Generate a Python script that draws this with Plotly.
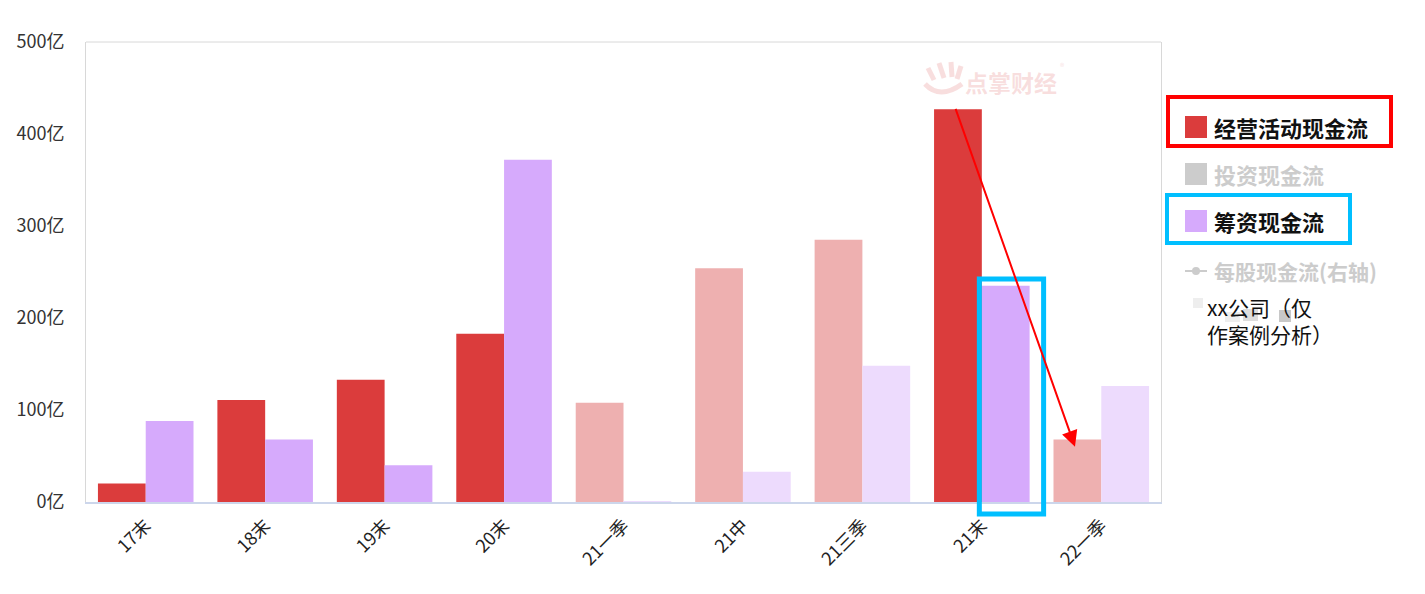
import plotly.graph_objects as go

categories = ["17末", "18末", "19末", "20末", "21一季", "21中", "21三季", "21末", "22一季"]
operating_cf = [20, 111, 133, 183, 108, 254, 285, 427, 68]
financing_cf = [88, 68, 40, 372, 1, 33, 148, 235, 126]
highlight = [True, True, True, True, False, False, False, True, False]
y_ticks = [0, 100, 200, 300, 400, 500]
y_tick_text = ["0亿", "100亿", "200亿", "300亿", "400亿", "500亿"]

RED, RED_F = "#DB3C3C", "#EEB0B0"
PUR, PUR_F = "#D6AAFC", "#EDDBFD"
FONT = "Noto Sans CJK SC"

fig = go.Figure()
fig.add_bar(x=categories, y=operating_cf, name="经营活动现金流",
            marker=dict(color=[RED if h else RED_F for h in highlight], line=dict(width=0)))
fig.add_bar(x=categories, y=financing_cf, name="筹资现金流",
            marker=dict(color=[PUR if h else PUR_F for h in highlight], line=dict(width=0)))

n = len(categories)
px_w = 1075.0


def px2paper_x(px):
    return (px - 86) / px_w


def px2paper_y(py):
    return (502 - py) / 460.0


shapes = []
annotations = []


def text_ann(px, py, text, size, color, xanchor="left", align="left"):
    annotations.append(dict(x=px2paper_x(px), y=px2paper_y(py), xref="paper", yref="paper",
                            xanchor=xanchor, yanchor="middle", showarrow=False, align=align,
                            text=text, font=dict(family=FONT, size=size, color=color)))


# cyan box around 21末 financing bar (derived from category index)
idx = categories.index("21末")
bx0 = (idx + 0.5) / n - 2.5 / px_w
bx1 = (idx + 0.9) / n + 14 / px_w
shapes.append(dict(type="rect", xref="paper", yref="paper", x0=bx0, x1=bx1,
                   y0=px2paper_y(514), y1=px2paper_y(279),
                   line=dict(color="#00BFFF", width=5), fillcolor="rgba(0,0,0,0)"))

# arrow from 21末 operating to 22一季 operating
annotations.append(dict(x=idx + 0.78, y=60, xref="x", yref="y",
                        ax=idx - 0.224, ay=429, axref="x", ayref="y",
                        showarrow=True, arrowhead=2, arrowsize=1.6, arrowwidth=2,
                        arrowcolor="#FF0000", text=""))

# watermark
WM = "rgba(235,160,160,0.35)"
text_ann(1011, 82, "<b>点掌财经</b>", 23, WM, xanchor="center")
text_ann(1062, 66, "®", 9, WM, xanchor="center")
for (x0, y0, x1, y1) in [(928, 68, 934, 80), (939, 63, 944, 78), (951, 62, 952, 77), (961, 66, 957, 79)]:
    shapes.append(dict(type="line", xref="paper", yref="paper",
                       x0=px2paper_x(x0), y0=px2paper_y(y0), x1=px2paper_x(x1), y1=px2paper_y(y1),
                       line=dict(color=WM, width=5)))
shapes.append(dict(type="path", xref="paper", yref="paper",
                   path="M %f,%f Q %f,%f %f,%f" % (px2paper_x(925), px2paper_y(84),
                                                 px2paper_x(940), px2paper_y(100),
                                                 px2paper_x(962), px2paper_y(84)),
                   line=dict(color=WM, width=5)))

# custom legend
legend_items = [
    ("经营活动现金流", RED, 127, "#111111"),
    ("投资现金流", "#CCCCCC", 174, "#CCCCCC"),
    ("筹资现金流", PUR, 221, "#111111"),
]
for text, col, cy, tcol in legend_items:
    shapes.append(dict(type="rect", xref="paper", yref="paper",
                       x0=px2paper_x(1185), x1=px2paper_x(1207),
                       y0=px2paper_y(cy + 11), y1=px2paper_y(cy - 11),
                       fillcolor=col, line=dict(width=0)))
    text_ann(1212, cy, f"<b>{text}</b>", 22, tcol)

# line-marker legend item
shapes.append(dict(type="line", xref="paper", yref="paper",
                   x0=px2paper_x(1185), x1=px2paper_x(1207),
                   y0=px2paper_y(271), y1=px2paper_y(271),
                   line=dict(color="#CCCCCC", width=2)))
shapes.append(dict(type="circle", xref="paper", yref="paper",
                   x0=px2paper_x(1192), x1=px2paper_x(1200),
                   y0=px2paper_y(275), y1=px2paper_y(267),
                   fillcolor="#CCCCCC", line=dict(width=0)))
text_ann(1212, 271, "<b>每股现金流(右轴)</b>", 21, "#CCCCCC")

# mosaic blocks
for (x0, y0, x1, y1, c) in [(1193, 298, 1203, 308, "#EEEEEE"), (1243, 309, 1258, 321, "#DDDDDD"),
                            (1279, 310, 1291, 322, "#C8C8C8"), (1225, 312, 1240, 322, "#EEEEEE")]:
    shapes.append(dict(type="rect", xref="paper", yref="paper",
                       x0=px2paper_x(x0), x1=px2paper_x(x1), y0=px2paper_y(y1), y1=px2paper_y(y0),
                       fillcolor=c, line=dict(width=0), layer="below"))

text_ann(1205, 320, "xx公司（仅<br>作案例分析）", 21, "#111111")

# highlight boxes around legend items
shapes.append(dict(type="rect", xref="paper", yref="paper",
                   x0=px2paper_x(1168), x1=px2paper_x(1391),
                   y0=px2paper_y(146), y1=px2paper_y(97),
                   line=dict(color="#FF0000", width=4)))
shapes.append(dict(type="rect", xref="paper", yref="paper",
                   x0=px2paper_x(1167), x1=px2paper_x(1350),
                   y0=px2paper_y(243), y1=px2paper_y(195),
                   line=dict(color="#00BFFF", width=4)))
shapes.append(dict(type="line", xref="paper", yref="paper", x0=0, x1=1, y0=1, y1=1,
                   line=dict(color="#D8D8D8", width=1)))

fig.update_layout(
    width=1425, height=594,
    margin=dict(l=86, r=264, t=42, b=92, autoexpand=False),
    paper_bgcolor="white", plot_bgcolor="white",
    barmode="group", bargap=0.2, bargroupgap=0,
    showlegend=False,
    font=dict(family=FONT, color="#333333"),
    shapes=shapes, annotations=annotations,
    xaxis=dict(type="category", showline=True, linecolor="#CCD6EB", linewidth=2,
               mirror=False, showgrid=False, ticks="", tickangle=-45,
               ticklabelstandoff=4,
               tickfont=dict(family=FONT, size=18, color="#222222")),
    yaxis=dict(range=[0, 500], tickvals=y_ticks, ticktext=y_tick_text, showgrid=False,
               showline=True, linecolor="#D8D8D8", linewidth=1, mirror=True,
               ticks="", ticklabelstandoff=17, zeroline=False,
               tickfont=dict(family=FONT, size=18, color="#333333")),
)

fig.write_html("out.html")
